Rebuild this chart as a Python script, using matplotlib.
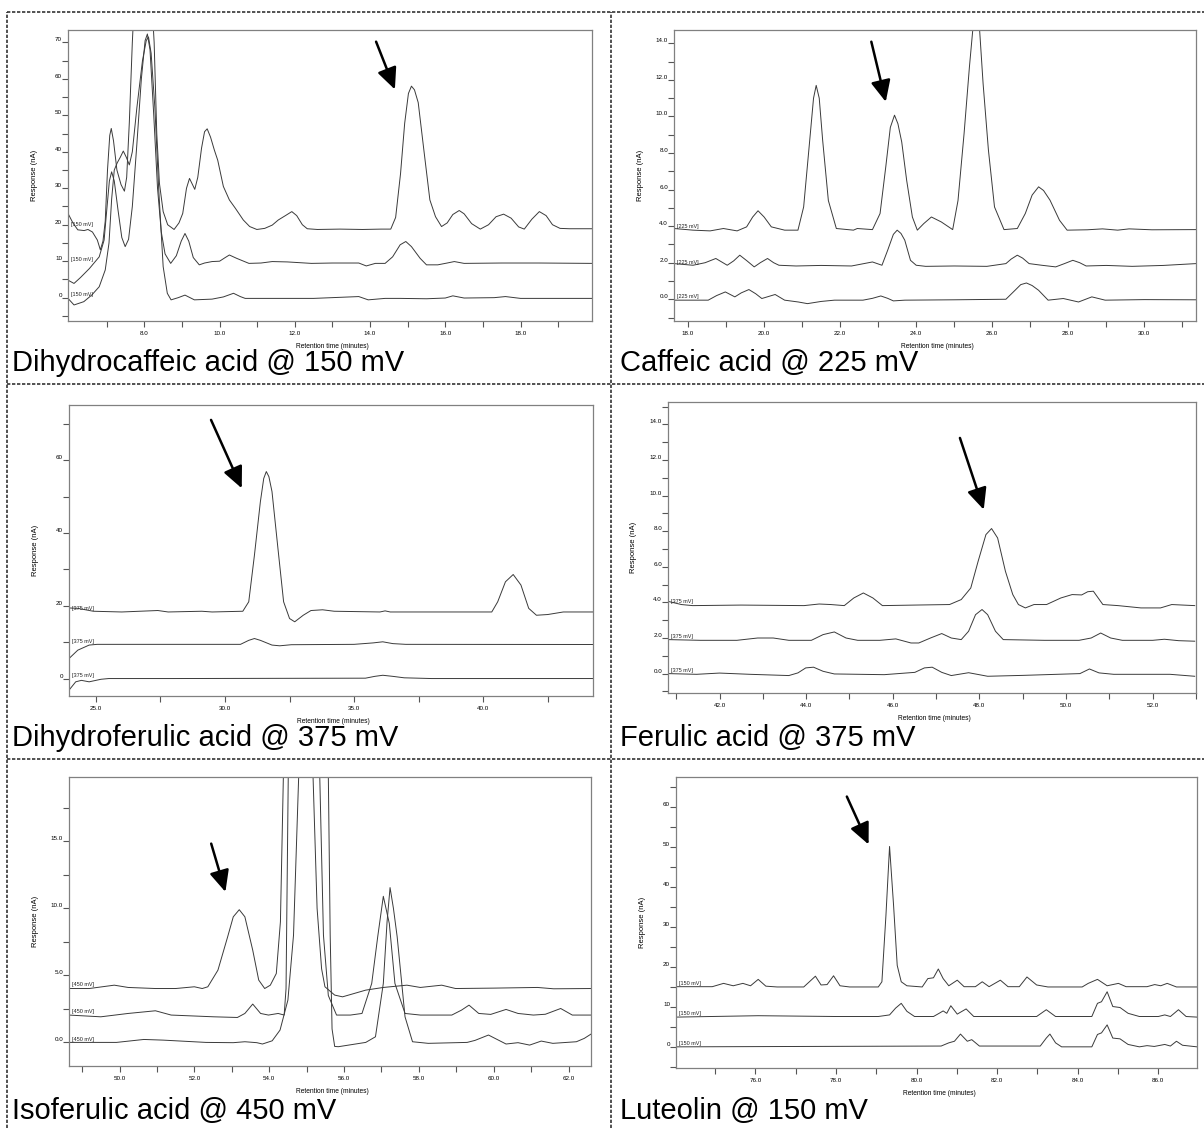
import matplotlib
matplotlib.use('Agg')
import matplotlib.pyplot as plt
from matplotlib.lines import Line2D
from matplotlib.ticker import FixedLocator, FormatStrFormatter

plt.rcParams['font.family'] = ['Liberation Sans', 'DejaVu Sans']

W, H = 1204, 1128

# ---- chromatogram traces as (time [min], response [nA]) ----
# Dihydrocaffeic acid @ 150 mV
dhca_top = [(5.97, 23.1), (6.1, 20.5), (6.23, 18.6), (6.4, 18.4), (6.5, 18.7), (6.62, 18.0), (6.75, 15.8),
            (6.83, 13.1), (6.9, 15.5), (6.96, 21.0), (7.02, 35.0), (7.08, 44.5), (7.12, 46.4), (7.18, 43.0),
            (7.27, 35.0), (7.38, 31.0), (7.47, 29.2), (7.53, 33.0), (7.6, 48.0), (7.68, 70.0), (7.75, 85.0),
            (7.9, 97.0), (8.05, 97.0), (8.18, 85.0), (8.26, 70.0), (8.33, 45.0), (8.4, 31.4), (8.5, 23.6),
            (8.62, 20.0), (8.79, 18.7), (8.92, 20.5), (9.02, 23.1), (9.12, 30.0), (9.2, 32.7), (9.28, 31.0),
            (9.34, 29.7), (9.42, 33.0), (9.52, 41.0), (9.6, 45.5), (9.67, 46.3), (9.76, 44.0), (9.86, 40.5),
            (9.95, 37.7), (10.1, 30.5), (10.26, 26.8), (10.42, 24.5), (10.63, 21.3), (10.8, 19.5), (10.99, 18.7),
            (11.2, 19.0), (11.4, 19.9), (11.56, 21.3), (11.75, 22.5), (11.92, 23.6), (12.05, 22.5), (12.2, 20.0),
            (12.33, 18.9), (12.6, 18.7), (13.2, 18.8), (13.8, 18.7), (14.3, 18.8), (14.55, 18.8), (14.68, 22.0),
            (14.81, 34.0), (14.92, 47.8), (15.02, 56.0), (15.1, 58.0), (15.18, 57.0), (15.28, 53.5), (15.43, 40.5),
            (15.59, 26.8), (15.74, 22.2), (15.9, 19.5), (16.05, 20.5), (16.2, 22.8), (16.37, 23.9), (16.5, 23.0),
            (16.7, 20.3), (16.93, 18.8), (17.15, 20.0), (17.35, 22.2), (17.55, 22.9), (17.75, 21.8), (17.95, 19.4),
            (18.1, 18.8), (18.3, 21.5), (18.5, 23.6), (18.68, 22.5), (18.85, 20.0), (19.05, 19.0), (19.3, 18.9),
            (19.9, 18.9)]
dhca_mid = [(5.97, 4.8), (6.13, 3.9), (6.3, 5.5), (6.54, 8.0), (6.8, 11.2), (6.93, 15.8), (7.0, 24.0), (7.07, 32.0),
            (7.13, 34.5), (7.2, 32.0), (7.3, 24.0), (7.4, 16.5), (7.49, 14.0), (7.58, 16.0), (7.68, 25.0),
            (7.8, 42.0), (7.92, 60.0), (8.02, 70.5), (8.08, 72.3), (8.15, 68.0), (8.25, 50.0), (8.35, 30.0),
            (8.45, 18.0), (8.55, 12.0), (8.7, 9.4), (8.85, 11.5), (8.98, 15.5), (9.08, 17.6), (9.18, 15.5),
            (9.3, 11.0), (9.46, 9.0), (9.6, 9.5), (9.8, 9.9), (10.0, 10.0), (10.15, 11.0), (10.26, 11.7),
            (10.45, 10.8), (10.78, 9.4), (11.1, 9.5), (11.4, 9.9), (11.8, 9.8), (12.44, 9.4), (13.0, 9.5),
            (13.7, 9.5), (13.9, 8.7), (14.14, 9.4), (14.4, 9.4), (14.6, 11.2), (14.8, 14.5), (14.95, 15.4),
            (15.1, 14.0), (15.33, 10.8), (15.5, 9.0), (15.8, 9.0), (16.05, 9.5), (16.24, 9.9), (16.5, 9.4),
            (17.5, 9.5), (18.5, 9.5), (19.9, 9.4)]
dhca_low = [(5.97, -0.2), (6.13, -2.0), (6.39, -1.1), (6.6, 0.7), (6.8, 3.0), (6.96, 7.6), (7.06, 15.0),
            (7.13, 27.0), (7.2, 35.0), (7.28, 37.0), (7.36, 38.5), (7.44, 40.2), (7.52, 38.5), (7.6, 36.4),
            (7.68, 40.0), (7.8, 52.0), (7.95, 65.0), (8.05, 70.5), (8.11, 71.5), (8.18, 67.0), (8.28, 52.0),
            (8.38, 30.0), (8.5, 8.5), (8.61, 1.2), (8.71, -0.6), (8.9, 0.0), (9.08, 0.7), (9.33, -0.6),
            (9.8, -0.4), (10.1, 0.2), (10.37, 1.2), (10.55, 0.3), (10.68, -0.2), (11.5, -0.2), (12.5, -0.2),
            (13.7, 0.3), (13.95, -0.6), (14.4, -0.2), (14.8, -0.2), (15.5, -0.3), (16.0, -0.1), (16.2, 0.5),
            (16.5, -0.1), (17.3, 0.0), (17.6, 0.3), (18.0, -0.2), (19.9, -0.2)]

# Caffeic acid @ 225 mV
caf_top = [(17.63, 3.87), (18.13, 3.78), (18.58, 3.74), (18.93, 3.87), (19.29, 3.74), (19.54, 3.96), (19.7, 4.5),
           (19.84, 4.84), (20.0, 4.5), (20.19, 3.96), (20.54, 3.78), (20.89, 3.78), (21.04, 5.05), (21.2, 8.7),
           (21.3, 11.0), (21.37, 11.7), (21.45, 11.0), (21.54, 8.7), (21.69, 5.4), (21.9, 3.87), (22.35, 3.78),
           (22.45, 3.87), (22.85, 3.81), (23.05, 4.69), (23.2, 7.24), (23.32, 9.4), (23.43, 10.07), (23.52, 9.6),
           (23.62, 8.6), (23.75, 6.5), (23.9, 4.5), (24.03, 3.78), (24.2, 4.14), (24.4, 4.5), (24.66, 4.23),
           (24.96, 3.81), (25.1, 5.4), (25.26, 9.07), (25.4, 12.7), (25.5, 15.0), (25.58, 15.8), (25.66, 15.0),
           (25.76, 11.8), (25.9, 8.16), (26.06, 5.05), (26.31, 3.81), (26.66, 3.87), (26.87, 4.69), (27.05, 5.7),
           (27.22, 6.15), (27.35, 5.95), (27.52, 5.42), (27.77, 4.32), (27.97, 3.78), (28.5, 3.8), (28.9, 3.85),
           (29.3, 3.78), (29.6, 3.85), (30.2, 3.8), (31.36, 3.81)]
caf_mid = [(17.63, 1.95), (18.13, 1.86), (18.45, 2.0), (18.73, 2.23), (19.03, 1.86), (19.2, 2.1), (19.36, 2.41),
           (19.55, 2.1), (19.74, 1.77), (19.9, 2.0), (20.09, 2.23), (20.25, 2.0), (20.39, 1.86), (20.84, 1.82),
           (21.5, 1.85), (22.3, 1.82), (22.85, 2.04), (23.1, 1.86), (23.25, 2.68), (23.4, 3.55), (23.5, 3.78),
           (23.6, 3.6), (23.7, 3.23), (23.85, 2.13), (24.0, 1.86), (24.25, 1.8), (25.0, 1.82), (25.86, 1.8),
           (26.36, 1.95), (26.5, 2.2), (26.66, 2.41), (26.8, 2.25), (26.97, 1.95), (27.3, 1.86), (27.67, 1.77),
           (27.9, 1.95), (28.12, 2.13), (28.3, 2.0), (28.47, 1.82), (29.0, 1.85), (29.68, 1.8), (30.5, 1.85),
           (31.36, 1.95)]
caf_low = [(17.63, -0.05), (18.53, -0.05), (18.75, 0.2), (18.98, 0.4), (19.23, 0.13), (19.4, 0.35), (19.6, 0.53),
           (19.78, 0.3), (19.94, 0.04), (20.29, 0.26), (20.54, -0.05), (20.9, -0.15), (21.14, -0.24), (21.5, -0.12),
           (21.85, -0.05), (22.6, -0.05), (22.85, 0.05), (23.07, 0.18), (23.25, 0.05), (23.4, -0.09), (23.7, -0.05),
           (25.0, -0.03), (26.36, 0.0), (26.6, 0.49), (26.75, 0.8), (26.9, 0.89), (27.05, 0.75), (27.22, 0.49),
           (27.47, -0.05), (27.87, 0.04), (28.27, -0.15), (28.62, 0.13), (28.97, -0.05), (30.0, -0.02),
           (31.36, -0.03)]

# Dihydroferulic acid @ 375 mV
dhfa_top = [(23.96, 19.4), (24.3, 19.3), (24.9, 18.5), (26.0, 18.3), (27.4, 18.7), (27.8, 18.3), (29.1, 18.5),
            (29.5, 18.3), (30.69, 18.5), (30.92, 21.1), (31.14, 33.9), (31.37, 48.6), (31.5, 55.0), (31.6, 56.9),
            (31.7, 55.5), (31.82, 51.4), (32.05, 35.8), (32.27, 21.1), (32.5, 16.5), (32.7, 15.6), (33.03, 17.4),
            (33.33, 18.7), (33.78, 18.9), (34.23, 18.5), (36.0, 18.3), (36.2, 18.6), (36.4, 18.3), (38.0, 18.3),
            (40.33, 18.3), (40.56, 21.1), (40.86, 26.6), (41.16, 28.6), (41.46, 25.7), (41.76, 19.3),
            (42.06, 17.4), (42.5, 17.6), (43.1, 18.3), (44.25, 18.3)]
dhfa_mid = [(23.96, 5.5), (24.3, 7.8), (24.74, 9.2), (25.05, 9.4), (28.0, 9.4), (30.6, 9.4), (30.92, 10.5),
            (31.14, 11.0), (31.37, 10.5), (31.82, 9.2), (32.12, 9.0), (32.57, 9.3), (35.0, 9.4), (35.74, 9.8),
            (36.11, 10.1), (36.5, 9.6), (37.0, 9.4), (44.25, 9.36)]
dhfa_low = [(23.96, -3.2), (24.22, -0.9), (24.44, -0.5), (24.74, -0.9), (25.2, -0.2), (25.5, 0.0), (28.0, 0.0),
            (35.44, 0.1), (35.8, 0.6), (36.11, 0.9), (36.5, 0.6), (36.94, 0.2), (38.0, 0.0), (44.25, 0.0)]

# Ferulic acid @ 375 mV
fer_top = [(40.81, 4.06), (41.12, 3.88), (41.38, 3.82), (42.5, 3.85), (43.95, 3.82), (44.3, 3.91), (44.57, 3.88),
           (44.88, 3.82), (45.1, 4.25), (45.32, 4.53), (45.54, 4.25), (45.76, 3.82), (46.5, 3.85), (47.31, 3.88),
           (47.58, 4.16), (47.8, 4.81), (47.97, 6.31), (48.15, 7.81), (48.28, 8.15), (48.42, 7.62), (48.6, 5.75),
           (48.77, 4.44), (48.9, 3.88), (49.06, 3.69), (49.26, 3.88), (49.55, 3.88), (49.88, 4.25), (50.14, 4.44),
           (50.36, 4.42), (50.5, 4.6), (50.63, 4.63), (50.85, 3.88), (51.2, 3.82), (51.73, 3.69), (52.18, 3.69),
           (52.44, 3.88), (52.7, 3.85), (52.97, 3.82)]
fer_mid = [(40.81, 1.91), (41.56, 1.87), (42.4, 1.87), (42.88, 2.0), (43.24, 2.0), (43.6, 1.87), (44.12, 1.87),
           (44.39, 2.19), (44.65, 2.34), (44.92, 2.0), (45.19, 1.87), (45.7, 1.87), (46.07, 1.95), (46.42, 1.72),
           (46.6, 1.72), (46.87, 2.0), (47.13, 2.25), (47.35, 2.0), (47.58, 1.91), (47.75, 2.38), (47.91, 3.31),
           (48.06, 3.6), (48.19, 3.31), (48.37, 2.38), (48.55, 1.91), (49.5, 1.87), (50.3, 1.87), (50.58, 2.0),
           (50.8, 2.28), (51.03, 2.0), (51.3, 1.87), (52.0, 1.87), (52.27, 1.93), (52.6, 1.85), (52.97, 1.82)]
fer_low = [(40.81, 0.0), (41.47, -0.04), (42.0, 0.03), (42.7, -0.04), (43.6, -0.11), (43.81, 0.04), (43.99, 0.32),
           (44.17, 0.36), (44.39, 0.13), (44.65, -0.02), (45.8, -0.06), (46.51, 0.07), (46.73, 0.32), (46.91, 0.36),
           (47.13, 0.07), (47.35, -0.11), (47.75, 0.05), (48.19, -0.15), (49.0, -0.1), (50.32, 0.0), (50.54, 0.26),
           (50.76, 0.04), (51.1, -0.04), (52.4, -0.04), (52.97, -0.15)]

# Isoferulic acid @ 450 mV
iso_top = [(48.65, 4.02), (49.19, 4.02), (49.86, 4.27), (50.23, 4.1), (50.96, 4.02), (51.5, 4.02), (52.0, 4.15),
           (52.21, 4.02), (52.36, 4.15), (52.63, 5.39), (52.89, 7.88), (53.04, 9.37), (53.2, 9.9), (53.35, 9.37),
           (53.56, 6.88), (53.72, 4.65), (53.88, 4.02), (54.03, 4.27), (54.19, 5.14), (54.3, 9.0), (54.38, 20.0),
           (54.5, 38.0), (54.77, 45.0), (55.05, 38.0), (55.17, 20.0), (55.28, 10.0), (55.4, 5.5), (55.49, 4.15),
           (55.75, 3.53), (55.96, 3.4), (56.58, 3.9), (57.05, 4.1), (57.68, 4.27), (58.04, 4.1), (58.61, 4.27),
           (58.98, 4.02), (60.0, 4.05), (61.17, 4.1), (61.6, 4.0), (62.6, 4.02)]
iso_mid = [(48.65, 2.04), (49.5, 1.91), (50.23, 2.16), (50.96, 2.36), (51.38, 2.04), (52.52, 1.91), (53.15, 1.86),
           (53.35, 2.16), (53.56, 2.86), (53.77, 2.16), (53.98, 2.04), (54.24, 2.16), (54.4, 2.04), (54.45, 4.0),
           (54.51, 20.0), (54.62, 38.0), (54.9, 45.0), (55.2, 38.0), (55.35, 20.0), (55.45, 8.0), (55.58, 3.5),
           (55.8, 2.04), (56.17, 2.04), (56.48, 2.16), (56.74, 4.4), (56.9, 7.88), (57.05, 10.9), (57.21, 8.87),
           (57.36, 4.4), (57.63, 2.16), (58.04, 2.04), (58.88, 2.04), (59.14, 2.41), (59.34, 2.78), (59.6, 2.16),
           (59.92, 2.09), (60.33, 2.46), (60.65, 2.16), (61.06, 2.04), (61.38, 2.1), (61.79, 2.53), (62.1, 2.04),
           (62.6, 2.04)]
iso_low = [(48.65, 0.0), (49.92, 0.0), (50.65, 0.22), (51.17, 0.17), (52.31, 0.0), (53.04, -0.02), (53.35, 0.05),
           (53.67, -0.02), (53.82, -0.12), (54.08, 0.12), (54.29, 0.92), (54.5, 3.16), (54.65, 8.0), (54.79, 20.0),
           (54.9, 38.0), (55.15, 45.0), (55.45, 38.0), (55.58, 20.0), (55.63, 8.0), (55.68, 1.0), (55.75, -0.3),
           (55.85, -0.32), (56.58, 0.0), (56.84, 0.42), (57.05, 4.4), (57.15, 9.0), (57.23, 11.55), (57.32, 10.0),
           (57.42, 7.88), (57.63, 1.91), (57.83, 0.05), (58.25, -0.07), (59.29, 0.0), (59.5, 0.15), (59.86, 0.55),
           (60.33, -0.12), (60.65, -0.02), (60.96, -0.2), (61.27, 0.1), (61.58, -0.07), (62.21, 0.05),
           (62.42, 0.3), (62.6, 0.62)]

# Luteolin @ 150 mV
lut_top = [(74.03, 15.07), (74.93, 15.07), (75.21, 15.9), (75.45, 15.3), (75.69, 15.9), (75.88, 15.3), (76.07, 16.9),
           (76.26, 15.2), (76.54, 15.0), (77.2, 15.0), (77.34, 16.3), (77.49, 17.7), (77.63, 15.5), (77.78, 15.6),
           (77.94, 17.8), (78.1, 15.3), (78.34, 15.0), (79.05, 15.0), (79.14, 16.3), (79.24, 32.9), (79.33, 50.2),
           (79.43, 35.4), (79.52, 20.4), (79.62, 16.3), (79.76, 15.3), (80.14, 15.0), (80.28, 17.1), (80.42, 17.3),
           (80.54, 19.5), (80.66, 17.1), (80.8, 15.3), (81.01, 16.7), (81.18, 15.07), (81.46, 15.07), (81.63, 16.3),
           (81.8, 15.07), (82.08, 16.7), (82.27, 15.07), (82.55, 15.07), (82.74, 17.5), (82.98, 15.5), (83.26, 15.0),
           (84.11, 15.0), (84.26, 15.9), (84.49, 16.9), (84.73, 15.3), (85.01, 15.9), (85.2, 15.07), (85.72, 15.07),
           (85.91, 15.6), (86.06, 15.3), (86.22, 15.9), (86.45, 15.0), (86.96, 15.0)]
lut_mid = [(74.03, 7.45), (76.07, 7.8), (78.0, 7.6), (79.05, 7.6), (79.33, 8.0), (79.48, 9.7), (79.62, 10.9),
           (79.76, 8.9), (79.95, 7.6), (80.42, 7.6), (80.56, 8.4), (80.66, 9.0), (80.75, 8.4), (80.85, 10.3),
           (81.01, 8.2), (81.23, 9.5), (81.42, 7.6), (82.98, 7.6), (83.22, 9.3), (83.45, 7.6), (84.35, 7.6),
           (84.49, 10.9), (84.59, 11.3), (84.73, 13.8), (84.87, 10.1), (85.05, 9.85), (85.25, 8.4), (85.53, 7.6),
           (86.0, 7.6), (86.16, 8.0), (86.3, 7.6), (86.5, 9.3), (86.69, 7.6), (86.96, 7.45)]
lut_low = [(74.03, 0.0), (80.61, 0.2), (80.8, 1.0), (80.94, 1.4), (81.09, 3.2), (81.26, 1.4), (81.37, 1.8),
           (81.56, 0.2), (83.07, 0.2), (83.22, 2.2), (83.31, 3.2), (83.45, 1.0), (83.6, 0.0), (84.35, 0.0),
           (84.49, 3.1), (84.59, 3.5), (84.73, 5.5), (84.87, 2.2), (85.05, 2.0), (85.25, 0.6), (85.53, 0.0),
           (85.72, 0.3), (85.9, 0.1), (86.16, 0.6), (86.3, 0.2), (86.45, 1.4), (86.6, 0.4), (86.96, 0.0)]

captions = ["Dihydrocaffeic acid @ 150 mV", "Caffeic acid @ 225 mV", "Dihydroferulic acid @ 375 mV",
            "Ferulic acid @ 375 mV", "Isoferulic acid @ 450 mV", "Luteolin @ 150 mV"]
potentials = ["[150 mV]", "[225 mV]", "[375 mV]", "[375 mV]", "[450 mV]", "[150 mV]"]

panels = [
    dict(box=(68, 30, 592, 321), traces=(dhca_top, dhca_mid, dhca_low), levels=(19.3, 9.7, 0.2),
         xlim=(5.97, 19.9), ylim=(-6.4, 73.4), xmaj=range(8, 19, 2), xmin=range(7, 20, 2),
         ymaj=range(0, 71, 10), ymin=range(-5, 70, 10), yfmt='%d', arrow=((14.16, 70.2), (14.66, 57.1))),
    dict(box=(674, 30, 1196, 321), traces=(caf_top, caf_mid, caf_low), levels=(3.85, 1.9, 0.0),
         xlim=(17.63, 31.36), ylim=(-1.19, 14.73), xmaj=range(18, 31, 2), xmin=range(19, 32, 2),
         ymaj=range(0, 15, 2), ymin=range(-1, 14, 2), yfmt='%.1f', arrow=((22.82, 14.09), (23.2, 10.8))),
    dict(box=(69, 405, 593, 696), traces=(dhfa_top, dhfa_mid, dhfa_low), levels=(18.6, 9.5, 0.2),
         xlim=(23.96, 44.25), ylim=(-4.8, 75.2), xmaj=range(25, 41, 5), xmin=[27.5, 32.5, 37.5, 42.5],
         ymaj=range(0, 61, 20), ymin=range(10, 71, 20), yfmt='%d', arrow=((29.46, 71.1), (30.65, 52.3))),
    dict(box=(668, 402, 1196, 693), traces=(fer_top, fer_mid, fer_low), levels=(3.9, 1.95, 0.05),
         xlim=(40.81, 53.0), ylim=(-1.09, 15.26), xmaj=range(42, 53, 2), xmin=range(41, 54, 2),
         ymaj=range(0, 15, 2), ymin=range(-1, 16, 2), yfmt='%.1f', arrow=((47.55, 13.24), (48.1, 9.21))),
    dict(box=(69, 777, 591, 1066), traces=(iso_top, iso_mid, iso_low), levels=(4.1, 2.1, 0.05),
         xlim=(48.65, 62.6), ylim=(-1.76, 19.8), xmaj=range(50, 63, 2), xmin=range(49, 62, 2),
         ymaj=[0, 5, 10, 15], ymin=[2.5, 7.5, 12.5, 17.5], yfmt='%.1f', arrow=((52.45, 14.83), (52.83, 11.23))),
    dict(box=(676, 777, 1197, 1068), traces=(lut_top, lut_mid, lut_low), levels=(15.3, 7.8, 0.2),
         xlim=(74.03, 86.96), ylim=(-5.3, 67.6), xmaj=range(76, 87, 2), xmin=range(75, 88, 2),
         ymaj=range(0, 61, 10), ymin=range(-5, 66, 10), yfmt='%d', arrow=((78.27, 62.7), (78.81, 50.7))),
]
caption_pos = [(12, 371), (620, 371), (12, 746), (620, 746), (12, 1119), (620, 1119)]

fig = plt.figure(figsize=(W / 100, H / 100), dpi=100)

for i, p in enumerate(panels):
    l, t, r, b = p['box']
    ax = fig.add_axes([l / W, 1 - b / H, (r - l) / W, (b - t) / H])
    for tr in p['traces']:
        xs, ys = zip(*tr)
        ax.plot(xs, ys, color='#3a3a3a', lw=0.7, solid_joinstyle='round')
    for lev in p['levels']:
        ax.text(0.006, lev, potentials[i], transform=ax.get_yaxis_transform(), fontsize=4,
                va='bottom', ha='left', color='#222222')
    ax.annotate('', xy=p['arrow'][1], xytext=p['arrow'][0], annotation_clip=False,
                arrowprops=dict(arrowstyle='-|>,head_length=1.3,head_width=0.6', color='black',
                                lw=1.8, shrinkA=0, shrinkB=0))
    ax.set_xlim(*p['xlim'])
    ax.set_ylim(*p['ylim'])
    ax.xaxis.set_major_locator(FixedLocator(list(p['xmaj'])))
    ax.xaxis.set_minor_locator(FixedLocator(list(p['xmin'])))
    ax.xaxis.set_major_formatter(FormatStrFormatter('%.1f'))
    ax.yaxis.set_major_locator(FixedLocator(list(p['ymaj'])))
    ax.yaxis.set_minor_locator(FixedLocator(list(p['ymin'])))
    ax.yaxis.set_major_formatter(FormatStrFormatter(p['yfmt']))
    ax.tick_params(axis='x', which='both', direction='out', length=4, width=0.8, color='#555555',
                   labelsize=4.5, pad=3)
    ax.tick_params(axis='y', which='both', direction='out', length=4, width=0.8, color='#555555',
                   labelsize=4.5, pad=0.3)
    for tk in ax.yaxis.get_major_ticks():
        tk.label1.set_verticalalignment('bottom')
    for sp in ax.spines.values():
        sp.set_color('#808080')
        sp.set_linewidth(0.9)
    ax.set_ylabel('Response (nA)', fontsize=5.5)
    ax.yaxis.set_label_coords(-0.058, 0.5)
    ax.set_xlabel('Retention time (minutes)', fontsize=4.8)
    ax.xaxis.set_label_coords(0.505, -0.075)
    cx, cy = caption_pos[i]
    fig.text(cx / W, 1 - cy / H, captions[i], fontsize=21, va='baseline', ha='left', color='black')

# cell borders of the figure panel
border = dict(color='#333333', lw=1.2, linestyle=(0, (2, 1)), transform=fig.transFigure)
fig.add_artist(Line2D([7 / W, 7 / W], [0, 1 - 12 / H], **border))
fig.add_artist(Line2D([611 / W, 611 / W], [0, 1 - 12 / H], **border))
for yy in (12, 384, 759):
    fig.add_artist(Line2D([7 / W, 1], [1 - yy / H, 1 - yy / H], **border))

fig.savefig('out.png', dpi=100, facecolor='white')
